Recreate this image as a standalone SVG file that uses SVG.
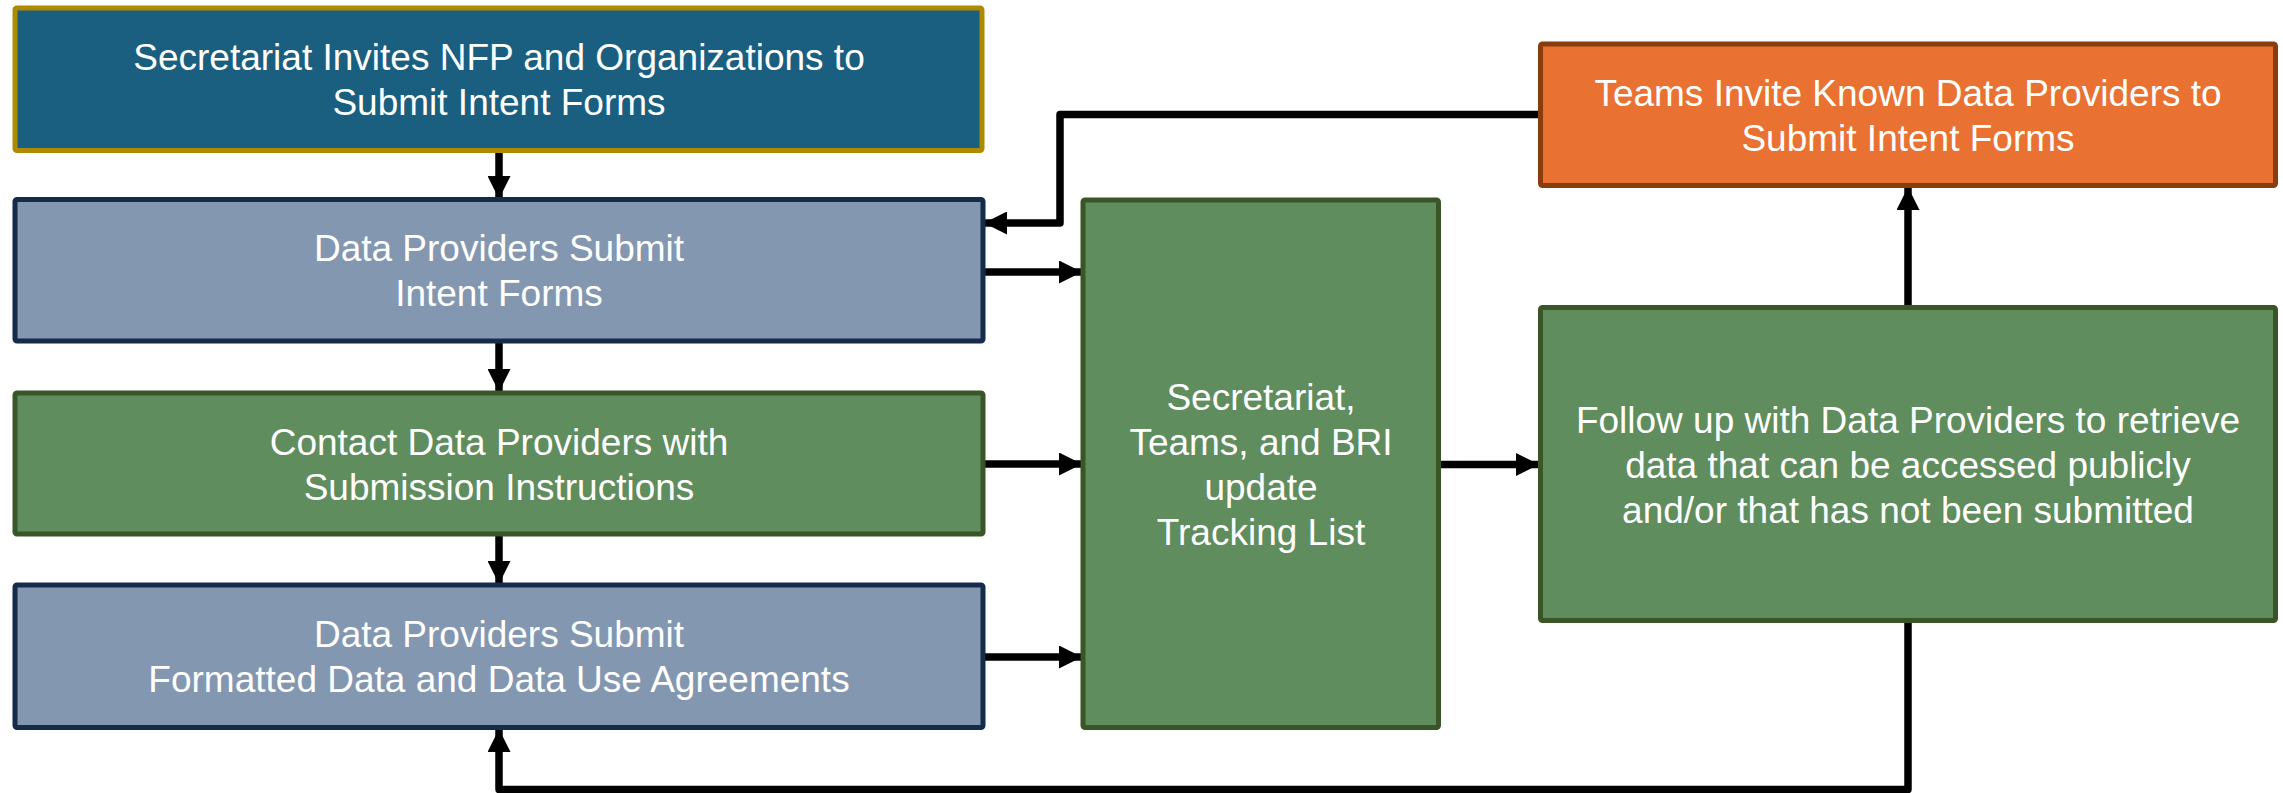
<svg xmlns="http://www.w3.org/2000/svg" width="2283" height="793" viewBox="0 0 2283 793">
  <defs>
    <style>
      .box { stroke-width: 5; }
      .navy { fill: #1A5F80; stroke: #AD8A00; }
      .gray { fill: #8497B0; stroke: #152B4A; }
      .green { fill: #5F8D5E; stroke: #3A5527; }
      .orange { fill: #E97232; stroke: #8A3D0C; }
      .lbl { font-family: "Liberation Sans", Arial, sans-serif; font-size: 37px; fill: #FFFFFF; text-anchor: middle; }
      .conn { fill: none; stroke: #000000; stroke-width: 7.5; stroke-linejoin: round; }
    </style>
    <marker id="ah" viewBox="0 0 23 23" refX="23" refY="11.5" markerWidth="23" markerHeight="23" markerUnits="userSpaceOnUse" orient="auto">
      <path d="M0,0 L23,11.5 L0,23 Z" fill="#000000"/>
    </marker>
  </defs>

  <g id="connectors">
    <line class="conn" x1="499" y1="151" x2="499" y2="199" marker-end="url(#ah)"/>
    <line class="conn" x1="499" y1="342" x2="499" y2="392" marker-end="url(#ah)"/>
    <line class="conn" x1="499" y1="535" x2="499" y2="584" marker-end="url(#ah)"/>
    <line class="conn" x1="984" y1="272" x2="1082" y2="272" marker-end="url(#ah)"/>
    <line class="conn" x1="984" y1="464" x2="1082" y2="464" marker-end="url(#ah)"/>
    <line class="conn" x1="984" y1="657" x2="1082" y2="657" marker-end="url(#ah)"/>
    <line class="conn" x1="1439" y1="464.5" x2="1539" y2="464.5" marker-end="url(#ah)"/>
    <line class="conn" x1="1908" y1="307" x2="1908" y2="187" marker-end="url(#ah)"/>
    <polyline class="conn" points="1540,114.5 1060,114.5 1060,223 984,223" marker-end="url(#ah)"/>
    <polyline class="conn" points="1908,621 1908,789.5 499,789.5 499,729" marker-end="url(#ah)"/>
  </g>

  <g id="node-secretariat-invites">
    <rect class="box navy" x="15" y="8" width="967" height="142.5" rx="2"/>
    <text class="lbl" x="499" y="70">Secretariat Invites NFP and Organizations to</text>
    <text class="lbl" x="499" y="115">Submit Intent Forms</text>
  </g>

  <g id="node-submit-intent">
    <rect class="box gray" x="15" y="199.5" width="968" height="141.5" rx="2"/>
    <text class="lbl" x="499" y="261">Data Providers Submit</text>
    <text class="lbl" x="499" y="306">Intent Forms</text>
  </g>

  <g id="node-contact">
    <rect class="box green" x="15" y="393" width="968" height="141" rx="2"/>
    <text class="lbl" x="499" y="454.5">Contact Data Providers with</text>
    <text class="lbl" x="499" y="499.5">Submission Instructions</text>
  </g>

  <g id="node-submit-data">
    <rect class="box gray" x="15" y="585" width="968" height="142.5" rx="2"/>
    <text class="lbl" x="499" y="647">Data Providers Submit</text>
    <text class="lbl" x="499" y="692">Formatted Data and Data Use Agreements</text>
  </g>

  <g id="node-tracking">
    <rect class="box green" x="1083" y="200" width="355.5" height="527.5" rx="2"/>
    <text class="lbl" x="1261" y="410">Secretariat,</text>
    <text class="lbl" x="1261" y="455">Teams, and BRI</text>
    <text class="lbl" x="1261" y="500">update</text>
    <text class="lbl" x="1261" y="545">Tracking List</text>
  </g>

  <g id="node-teams-invite">
    <rect class="box orange" x="1540.5" y="44" width="735" height="141.5" rx="2"/>
    <text class="lbl" x="1908" y="106">Teams Invite Known Data Providers to</text>
    <text class="lbl" x="1908" y="151">Submit Intent Forms</text>
  </g>

  <g id="node-follow-up">
    <rect class="box green" x="1540.5" y="307.5" width="735" height="313" rx="2"/>
    <text class="lbl" x="1908" y="432.5">Follow up with Data Providers to retrieve</text>
    <text class="lbl" x="1908" y="477.5">data that can be accessed publicly</text>
    <text class="lbl" x="1908" y="522.5">and/or that has not been submitted</text>
  </g>
</svg>
